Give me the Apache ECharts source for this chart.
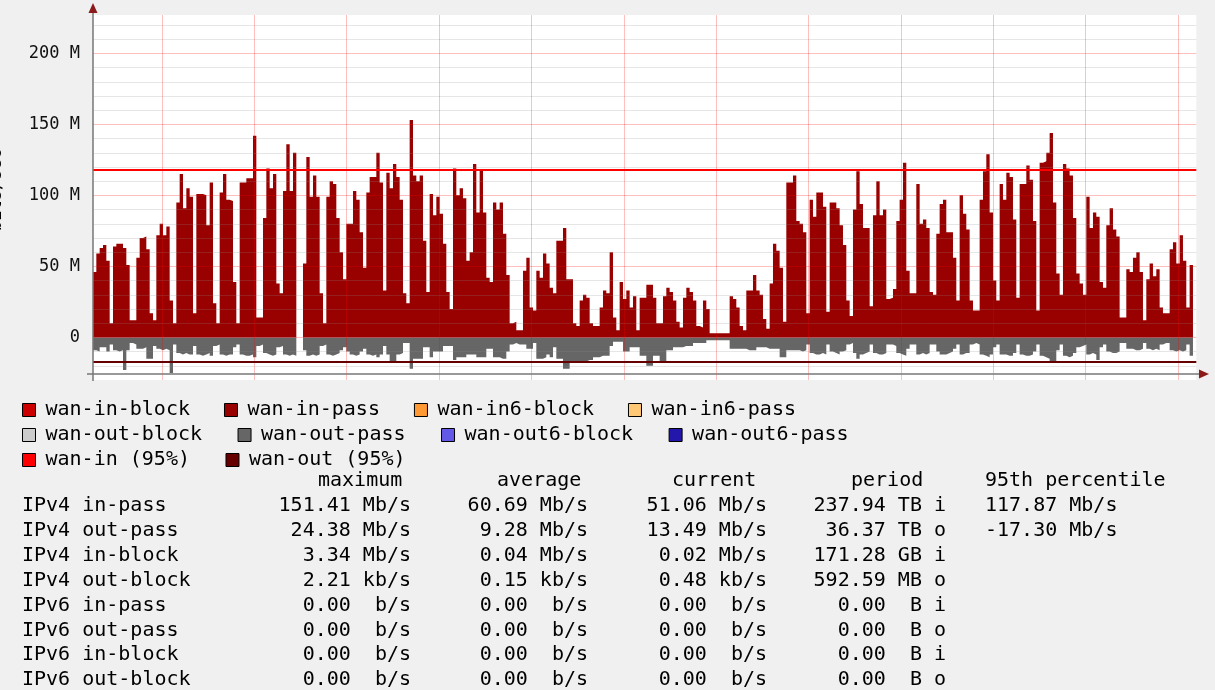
<!DOCTYPE html>
<html>
<head>
<meta charset="utf-8">
<title>wan traffic</title>
<script src="https://cdn.jsdelivr.net/npm/echarts@6/dist/echarts.min.js"></script>
<style>
    html, body { margin:0; padding:0; background:#f0f0f0; }
    #chart { width:1215px; height:690px; }
</style>
</head>
<body>
<div id="chart"></div>
<script>
// one value per sample step, Mb/s (null = no data)
var inPass = [
    46, 59, 63, 65, 54, 10, 64, 66, 66, 63, 51, 12, 12, 56, 70, 71, 62, 17, 12, 72,
    80, 72, 78, 26, 10, 95, 115, 91, 105, 99, 17, 101, 101, 100, 79, 109, 24, 10, 102, 115,
    97, 96, 39, 10, 109, 109, 112, 112, 142, 14, 14, 84, 119, 105, 115, 38, 31, 103, 136, 103,
    130, null, null, 52, 127, 99, 114, 99, 31, 10, 99, 110, 108, 84, 60, 41, 80, 80, 103, 97,
    74, 49, 102, 113, 113, 130, 109, 33, 116, 105, 122, 113, 97, 31, 24, 153, 114, 110, 114, 68,
    32, 101, 86, 99, 87, 66, 32, 20, 119, 100, 105, 98, 54, 60, 122, 88, 118, 88, 42, 39,
    95, 90, 95, 73, 44, 10, 11, 5, 5, 47, 56, 21, 19, 47, 42, 59, 52, 35, 31, 68,
    68, 77, 41, 41, 10, 8, 26, 30, 28, 10, 8, 8, 21, 33, 31, 60, 14, 5, 39, 27,
    33, 21, 29, 5, 28, 28, 37, 37, 28, 10, 10, 29, 35, 32, 26, 11, 7, 28, 35, 32,
    26, 8, 7, 26, 20, 3, 3, 3, 3, 3, 3, 29, 27, 21, 8, 5, 33, 33, 44, 33,
    30, 13, 6, 38, 66, 61, 49, 11, 109, 109, 114, 82, 80, 74, 17, 97, 85, 102, 102, 92,
    18, 95, 95, 91, 79, 65, 26, 15, 90, 117, 94, 77, 77, 22, 86, 110, 86, 90, 27, 28,
    34, 82, 97, 123, 47, 31, 31, 108, 80, 83, 77, 32, 30, 73, 94, 97, 74, 74, 56, 26,
    100, 87, 76, 26, 19, 19, 97, 117, 129, 88, 40, 26, 108, 97, 116, 113, 83, 28, 108, 108,
    121, 111, 82, 19, 123, 124, 130, 144, 95, 45, 30, 122, 119, 114, 84, 45, 38, 30, 99, 77,
    88, 85, 39, 35, 79, 91, 76, 71, 14, 14, 48, 46, 56, 60, 46, 12, 41, 52, 43, 48,
    21, 17, 17, 62, 67, 52, 72, 54, 21, 51
];
var outPass = [
    -9, -10, -7, -7, -10, -5, -9, -10, -9, -23, -9, -4, -5, -8, -8, -7, -15, -15, -6, -8,
    -9, -8, -9, -25, -5, -11, -12, -11, -12, -12, -6, -12, -13, -12, -11, -13, -6, -5, -12, -13,
    -12, -12, -7, -5, -12, -13, -13, -12, -14, -6, -5, -11, -12, -13, -12, -7, -6, -12, -13, -12,
    -13, null, null, -9, -13, -12, -13, -12, -6, -5, -12, -13, -12, -11, -9, -7, -10, -12, -13, -12,
    -10, -8, -12, -13, -12, -14, -12, -6, -12, -18, -18, -12, -11, -4, -4, -22, -15, -15, -15, -7,
    -7, -14, -10, -10, -10, -6, -6, -6, -16, -14, -14, -14, -12, -12, -12, -14, -14, -14, -8, -8,
    -14, -14, -15, -15, -10, -5, -4, -5, -5, -5, -8, -8, -4, -15, -15, -14, -12, -14, -7, -15,
    -15, -22, -22, -17, -17, -17, -17, -17, -16, -16, -14, -14, -13, -13, -13, -6, -3, -3, -3, -10,
    -10, -7, -7, -7, -13, -13, -20, -20, -13, -13, -18, -18, -9, -9, -7, -7, -7, -6, -6, -6,
    -4, -4, -4, -4, -2, -2, -2, -2, -2, -2, -2, -8, -8, -8, -8, -8, -9, -9, -9, -7,
    -7, -7, -8, -8, -8, -8, -14, -14, -9, -9, -9, -9, -10, -9, -5, -11, -12, -12, -11, -12,
    -5, -10, -11, -12, -10, -9, -5, -4, -11, -15, -12, -11, -10, -5, -11, -12, -12, -11, -5, -5,
    -6, -11, -12, -13, -8, -5, -5, -12, -11, -12, -11, -5, -5, -10, -12, -12, -11, -10, -8, -5,
    -12, -11, -11, -5, -4, -5, -12, -13, -14, -12, -7, -5, -12, -12, -13, -13, -11, -5, -12, -13,
    -13, -12, -10, -5, -13, -14, -15, -17, -18, -9, -5, -13, -14, -13, -11, -7, -6, -5, -12, -11,
    -12, -16, -7, -5, -10, -11, -11, -10, -4, -4, -8, -8, -9, -9, -8, -4, -8, -9, -8, -9,
    -5, -4, -4, -9, -10, -9, -10, -9, -5, -13
];
var p95In = 117.87;
var p95Out = -17.30;

var yLabels = [0, 50, 100, 150, 200];
var vLines = [20.7, 48.4, 76.1, 103.8, 131.5, 159.3, 187.0, 214.7, 242.4, 270.1, 297.8, 325.5];

var legendRows = [
    ['wan-in-block', 'wan-in-pass', 'wan-in6-block', 'wan-in6-pass'],
    ['wan-out-block', 'wan-out-pass', 'wan-out6-block', 'wan-out6-pass'],
    ['wan-in (95%)', 'wan-out (95%)']
];

var tableHead = ['maximum', 'average', 'current', 'period', '95th percentile'];
var rowLabels = ['IPv4 in-pass', 'IPv4 out-pass', 'IPv4 in-block', 'IPv4 out-block',
    'IPv6 in-pass', 'IPv6 out-pass', 'IPv6 in-block', 'IPv6 out-block'];
var maxVals = ['151.41 Mb/s', '24.38 Mb/s', '3.34 Mb/s', '2.21 kb/s', '0.00  b/s', '0.00  b/s', '0.00  b/s', '0.00  b/s'];
var avgVals = ['60.69 Mb/s', '9.28 Mb/s', '0.04 Mb/s', '0.15 kb/s', '0.00  b/s', '0.00  b/s', '0.00  b/s', '0.00  b/s'];
var curVals = ['51.06 Mb/s', '13.49 Mb/s', '0.02 Mb/s', '0.48 kb/s', '0.00  b/s', '0.00  b/s', '0.00  b/s', '0.00  b/s'];
var periodVals = ['237.94 TB i', '36.37 TB o', '171.28 GB i', '592.59 MB o', '0.00  B i', '0.00  B o', '0.00  B i', '0.00  B o'];
var pctVals = ['117.87 Mb/s', '-17.30 Mb/s', '', '', '', '', '', ''];

var MONO = '"DejaVu Sans Mono", monospace';
var xMax = 331;

// each sample becomes a flat step so the area looks like the rrd bars
function steps(vals) {
    var pts = [];
    vals.forEach(function (v, i) {
        if (v === null) { pts.push([i, '-']); return; }
        pts.push([i, v], [i + 1, v]);
    });
    return pts;
}

var gridLines = [];
for (var g = -20; g <= 220; g += 10) {
    if (g % 50 !== 0) {
        gridLines.push({ yAxis: g, lineStyle: { color: 'rgba(140,140,140,0.22)', width: 1, type: 'solid' } });
    }
}
yLabels.forEach(function (v) {
    gridLines.push({ yAxis: v, lineStyle: { color: 'rgba(255,0,0,0.25)', width: 1, type: 'solid' } });
});
vLines.forEach(function (v) {
    gridLines.push({ xAxis: v, lineStyle: { color: 'rgba(255,0,0,0.25)', width: 1, type: 'solid' } });
});

function areaSeries(name, vals, color) {
    return {
        name: name, type: 'line', data: steps(vals), color: color,
        symbol: 'none', showSymbol: false, z: 2,
        lineStyle: { width: 0, opacity: 0 },
        areaStyle: { color: color, opacity: 1 }
    };
}
function hLine(name, v, color) {
    return {
        name: name, type: 'line', color: color, symbol: 'none', z: 5,
        data: [[0, v], [xMax, v]],
        lineStyle: { color: color, width: 2 }
    };
}
function emptySeries(name, color) {
    return { name: name, type: 'line', data: [], color: color, symbol: 'none' };
}

var texts = [];
var headX = [318, 497, 672, 851, 985];
tableHead.forEach(function (h, k) {
    texts.push({ type: 'text', x: headX[k], y: 481, style: { text: h, font: '20px ' + MONO, fill: '#000', verticalAlign: 'middle' } });
});
var cols = [[maxVals, 411], [avgVals, 588], [curVals, 767], [periodVals, 946]];
rowLabels.forEach(function (lab, r) {
    var y = 506 + r * 24.86;
    texts.push({ type: 'text', x: 22, y: y, style: { text: lab, font: '20px ' + MONO, fill: '#000', verticalAlign: 'middle' } });
    cols.forEach(function (c) {
        texts.push({ type: 'text', x: c[1], y: y, style: { text: c[0][r], font: '20px ' + MONO, fill: '#000', align: 'right', verticalAlign: 'middle' } });
    });
    if (pctVals[r]) {
        texts.push({ type: 'text', x: 985, y: y, style: { text: pctVals[r], font: '20px ' + MONO, fill: '#000', verticalAlign: 'middle' } });
    }
});

var legendGaps = [34, 35.5, 35.5];

var chart = echarts.init(document.getElementById('chart'));
var option = {
    backgroundColor: '#f0f0f0',
    animation: false,
    grid: {
        left: 93, top: 15, width: 1103.3, height: 365,
        show: true, backgroundColor: '#ffffff', borderWidth: 0
    },
    xAxis: {
        type: 'value', min: 0, max: xMax,
        axisLine: { show: false }, axisTick: { show: false },
        axisLabel: { show: false }, splitLine: { show: false }
    },
    yAxis: {
        type: 'value', min: -30, max: 227, interval: 10,
        axisLine: { show: false }, axisTick: { show: false },
        splitLine: { show: false },
        axisLabel: {
            margin: 13, fontFamily: MONO, fontSize: 17, color: '#111',
            formatter: function (v) {
                if (yLabels.indexOf(v) < 0) return '';
                return v === 0 ? '0' : v + ' M';
            }
        }
    },
    legend: legendRows.map(function (row, k) {
        return {
            data: row, left: 22, top: 400 + 25 * k, padding: 0,
            icon: 'rect', itemWidth: 13, itemHeight: 13, itemGap: legendGaps[k],
            selectedMode: false,
            itemStyle: { borderColor: '#000', borderWidth: 1 },
            textStyle: { fontFamily: MONO, fontSize: 20, color: '#000', padding: [0, 0, 0, 5] }
        };
    }),
    series: [
        areaSeries('wan-in-pass', inPass, '#990000'),
        areaSeries('wan-out-pass', outPass, '#666666'),
        {
            name: 'grid', type: 'line', data: [], z: 4,
            markLine: { silent: true, symbol: 'none', animation: false, label: { show: false }, data: gridLines }
        },
        hLine('wan-in (95%)', p95In, '#ff0000'),
        hLine('wan-out (95%)', p95Out, '#660000'),
        emptySeries('wan-in-block', '#cc0000'),
        emptySeries('wan-in6-block', '#ff9933'),
        emptySeries('wan-in6-pass', '#ffc875'),
        emptySeries('wan-out-block', '#cccccc'),
        emptySeries('wan-out6-block', '#625ae7'),
        emptySeries('wan-out6-pass', '#2217aa')
    ],
    graphic: [
        { type: 'line', z: 100, shape: { x1: 93, y1: 381, x2: 93, y2: 11 }, style: { stroke: '#777', lineWidth: 1.5 } },
        { type: 'polygon', z: 101, shape: { points: [[88.5, 13], [97.5, 13], [93, 3]] }, style: { fill: '#8b1a1a' } },
        { type: 'line', z: 100, shape: { x1: 87, y1: 374, x2: 1201, y2: 374 }, style: { stroke: '#777', lineWidth: 1.5 } },
        { type: 'polygon', z: 101, shape: { points: [[1199, 369.5], [1199, 378.5], [1209, 374]] }, style: { fill: '#8b1a1a' } },
        { type: 'text', x: -3, y: 190, rotation: Math.PI / 2, style: { text: 'bits/sec', font: '17px ' + MONO, fill: '#000', align: 'center', verticalAlign: 'middle' } }
    ].concat(texts)
};
chart.setOption(option);
</script>
</body>
</html>
